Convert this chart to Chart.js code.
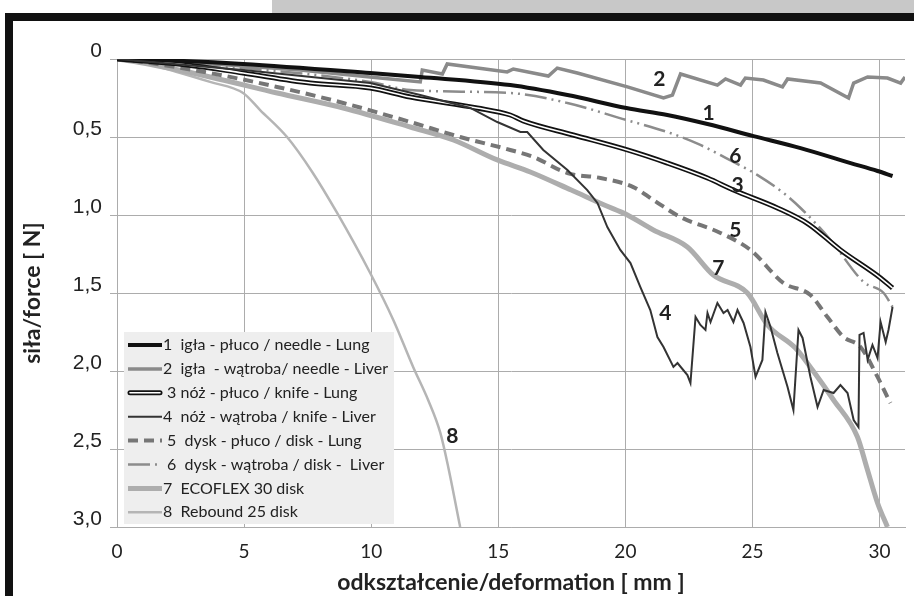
<!DOCTYPE html>
<html>
<head>
<meta charset="utf-8">
<script src="https://cdn.jsdelivr.net/npm/chart.js@4"></script>
<style>
  html, body { margin: 0; padding: 0; background: #fff; }
  canvas { display: block; }
</style>
</head>
<body>
<canvas id="forceChart" width="914" height="596"></canvas>
<script>
// [deformation mm, force N]
const needleLung = [[0,0],[2.5,0.012],[4.96,0.032],[9.96,0.09],[11.93,0.115],[15.47,0.167],[17.72,0.231],[20.04,0.314],[21.65,0.359],[23.23,0.417],[25.04,0.494],[26.89,0.571],[28.86,0.667],[29.92,0.718],[30.51,0.75]];
const needleLiver = [[0,0],[3.27,0.026],[7.2,0.071],[10.35,0.122],[11.93,0.147],[12.01,0.071],[12.8,0.096],[12.99,0.032],[15.35,0.083],[15.59,0.064],[16.97,0.109],[17.32,0.058],[18.11,0.09],[20.08,0.179],[21.5,0.25],[21.85,0.231],[22.17,0.096],[23.62,0.167],[23.94,0.128],[24.53,0.167],[24.72,0.122],[25.43,0.135],[26.18,0.179],[26.38,0.128],[27.68,0.154],[28.78,0.25],[28.98,0.154],[29.53,0.115],[30.31,0.122],[30.83,0.154],[31.0,0.115]];
const knifeLung = [[0,0],[2.76,0.038],[4.96,0.09],[7.6,0.154],[9.96,0.186],[11.54,0.244],[14.17,0.314],[15.47,0.359],[15.98,0.397],[17.95,0.487],[20.08,0.583],[21.65,0.667],[23.23,0.763],[24.25,0.84],[25.98,0.955],[27.2,1.058],[28.46,1.224],[30.04,1.404],[30.51,1.468]];
const knifeLiver = [[0,0],[4.96,0.071],[9.96,0.154],[11.93,0.231],[13.9,0.314],[14.96,0.404],[15.87,0.468],[16.14,0.468],[16.77,0.583],[17.72,0.712],[18.5,0.84],[18.9,0.923],[19.29,1.077],[19.8,1.224],[20.2,1.308],[20.59,1.462],[20.98,1.609],[21.26,1.782],[21.5,1.846],[21.89,1.974],[22.05,1.949],[22.44,2.026],[22.56,2.077],[22.76,1.654],[22.95,1.705],[23.15,1.737],[23.23,1.628],[23.35,1.686],[23.62,1.564],[23.86,1.628],[24.02,1.609],[24.25,1.686],[24.41,1.609],[24.65,1.692],[24.92,1.846],[25.12,2.038],[25.39,1.929],[25.51,1.622],[25.71,1.718],[25.98,1.885],[26.38,2.103],[26.61,2.25],[26.81,1.737],[26.97,1.788],[27.28,2.038],[27.56,2.231],[27.8,2.122],[28.19,2.141],[28.46,2.09],[28.74,2.141],[28.98,2.314],[29.17,2.359],[29.21,1.769],[29.37,1.756],[29.53,1.929],[29.72,1.833],[29.92,1.917],[30.04,1.686],[30.24,1.814],[30.35,1.737],[30.51,1.59]];
const diskLung = [[0,0],[1.02,0.019],[3.66,0.09],[6.3,0.179],[8.9,0.282],[11.54,0.404],[13.5,0.5],[15.47,0.583],[16.38,0.628],[17.72,0.731],[19.02,0.763],[20.31,0.821],[21.1,0.904],[22.17,1.013],[23.74,1.115],[24.92,1.224],[26.22,1.436],[27.28,1.513],[27.95,1.654],[28.58,1.782],[29.25,1.846],[29.92,2.038],[30.31,2.167],[30.43,2.205]];
const diskLiver = [[0,0],[4.96,0.058],[9.96,0.147],[11.54,0.199],[15.47,0.218],[17.72,0.282],[20.04,0.391],[21.65,0.468],[22.95,0.551],[24.25,0.66],[25.2,0.744],[26.22,0.859],[26.89,0.955],[28.07,1.16],[29.37,1.429],[30.16,1.5],[30.51,1.59]];
const ecoflex = [[0,0],[1.02,0.026],[3.66,0.115],[6.3,0.218],[8.9,0.314],[11.54,0.436],[13.23,0.519],[14.96,0.647],[16.26,0.724],[17.87,0.84],[19.17,0.936],[20.08,1.0],[21.1,1.096],[22.44,1.205],[23.46,1.385],[24.8,1.5],[25.59,1.705],[26.69,1.853],[27.36,1.994],[28.19,2.186],[29.13,2.423],[29.49,2.615],[29.92,2.846],[30.31,3.0]];
const rebound = [[0,0],[1.02,0.026],[2.36,0.083],[3.66,0.147],[4.96,0.218],[5.63,0.327],[6.69,0.5],[7.68,0.724],[8.66,0.987],[9.96,1.372],[10.87,1.673],[11.65,1.974],[12.24,2.186],[12.72,2.397],[13.03,2.615],[13.5,3.0]];

const legendLabels = [
  '1  igła - płuco / needle - Lung',
  '2  igła  - wątroba/ needle - Liver',
  ' 3 nóż - płuco / knife - Lung',
  '4  nóż - wątroba / knife - Liver',
  ' 5  dysk - płuco / disk - Lung',
  ' 6  dysk - wątroba / disk -  Liver',
  '7  ECOFLEX 30 disk',
  '8  Rebound 25 disk'
];

// curve numbers placed next to the lines
const curveTags = ['1', '2', '3', '4', '5', '6', '7', '8'];
const curveTagX = [23.27, 21.34, 24.41, 21.57, 24.33, 24.33, 23.66, 13.19];
const curveTagY = [0.35, 0.128, 0.808, 1.628, 1.096, 0.622, 1.34, 2.417];

const xTicks = [0, 5, 10, 15, 20, 25, 30];
const yTicks = [0, 0.5, 1.0, 1.5, 2.0, 2.5, 3.0];

const pts = arr => arr.map(p => ({x: p[0], y: p[1]}));

const datasets = [
  {label: legendLabels[0], data: pts(needleLung), borderColor: '#111', borderWidth: 4, order: 2},
  {label: legendLabels[1], data: pts(needleLiver), borderColor: '#8a8a8a', borderWidth: 3.5, order: 6},
  {label: legendLabels[2], data: pts(knifeLung), borderColor: '#111', borderWidth: 5, order: 4, double: true},
  {label: '', data: pts(knifeLung), borderColor: '#fff', borderWidth: 1.6, order: 3, skipLegend: true},
  {label: legendLabels[3], data: pts(knifeLiver), borderColor: '#333', borderWidth: 2, order: 1, tension: 0},
  {label: legendLabels[4], data: pts(diskLung), borderColor: '#767676', borderWidth: 4, borderDash: [10, 6], order: 5},
  {label: legendLabels[5], data: pts(diskLiver), borderColor: '#8c8c8c', borderWidth: 2.5, borderDash: [22, 5, 2, 5, 2, 5], order: 5},
  {label: legendLabels[6], data: pts(ecoflex), borderColor: '#adadad', borderWidth: 5, order: 7},
  {label: legendLabels[7], data: pts(rebound), borderColor: '#b5b5b5', borderWidth: 2.5, order: 8}
];
datasets.forEach(d => {
  d.pointRadius = 0;
  d.fill = false;
  if (d.tension === undefined) d.cubicInterpolationMode = 'monotone';
});
datasets[1].cubicInterpolationMode = 'default';
datasets[1].tension = 0;

// white page, grey strip and black frame around the figure
const framePlugin = {
  id: 'frame',
  beforeDraw(chart) {
    const ctx = chart.ctx;
    ctx.save();
    ctx.fillStyle = '#fff';
    ctx.fillRect(0, 0, chart.width, chart.height);
    ctx.fillStyle = '#c8c8c8';
    ctx.fillRect(272, 0, chart.width - 272, 13);
    ctx.fillStyle = '#111';
    ctx.fillRect(5, 13, chart.width - 5, 8);
    ctx.fillRect(5, 13, 8, chart.height - 13);
    ctx.restore();
  }
};

// legend box inside the plot + numbers on the curves
const legendPlugin = {
  id: 'boxLegend',
  afterDraw(chart) {
    const ctx = chart.ctx;
    ctx.save();
    ctx.fillStyle = '#eeeeee';
    ctx.fillRect(124, 332, 270, 192);
    const items = chart.data.datasets.filter(d => !d.skipLegend);
    items.forEach((d, i) => {
      const y = 345 + i * 23.9;
      ctx.beginPath();
      ctx.setLineDash(d.borderDash || []);
      ctx.lineCap = d.double ? 'round' : 'butt';
      ctx.strokeStyle = d.borderColor;
      ctx.lineWidth = d.borderWidth;
      ctx.moveTo(d.double ? 130 : 128, y);
      ctx.lineTo(d.double ? 160 : 162, y);
      ctx.stroke();
      if (d.double) {
        ctx.strokeStyle = '#fff';
        ctx.lineWidth = 1.6;
        ctx.stroke();
      }
      ctx.setLineDash([]);
      ctx.fillStyle = '#222';
      ctx.font = '16px Lato';
      ctx.textBaseline = 'middle';
      ctx.textAlign = 'left';
      ctx.fillText(d.label, 163, y);
    });
    const xs = chart.scales.x, ys = chart.scales.y;
    ctx.font = 'bold 21px Lato';
    ctx.textAlign = 'center';
    ctx.fillStyle = '#222';
    curveTags.forEach((t, i) => {
      ctx.fillText(t, xs.getPixelForValue(curveTagX[i]), ys.getPixelForValue(curveTagY[i]));
    });
    ctx.restore();
  }
};

new Chart(document.getElementById('forceChart'), {
  type: 'line',
  data: {datasets: datasets},
  options: {
    responsive: false,
    animation: false,
    layout: {padding: {left: 0, top: 59, right: 9, bottom: 0}},
    plugins: {legend: {display: false}, tooltip: {enabled: false}},
    scales: {
      x: {
        type: 'linear',
        min: 0,
        max: 31,
        afterFit: s => { s.height = 69; },
        afterBuildTicks: s => { s.ticks = xTicks.map(v => ({value: v})); },
        grid: {color: '#acacac', lineWidth: 1, drawTicks: false},
        border: {color: '#acacac'},
        ticks: {
          padding: 13,
          color: '#222',
          font: {family: 'Lato', size: 19},
          maxRotation: 0
        },
        title: {
          display: true,
          text: 'odkształcenie/deformation [ mm ]',
          color: '#222',
          font: {family: 'Lato', size: 23, weight: 'bold'},
          padding: {top: 0, bottom: 0}
        }
      },
      y: {
        type: 'linear',
        reverse: true,
        min: 0,
        max: 3,
        afterFit: s => { s.width = 117; },
        afterBuildTicks: s => { s.ticks = yTicks.map(v => ({value: v})); },
        grid: {color: '#acacac', lineWidth: 1, drawTicks: true, tickLength: 7},
        border: {color: '#acacac'},
        ticks: {
          padding: 8,
          labelOffset: -8,
          color: '#222',
          font: {family: '"Liberation Sans"', size: 21},
          callback: v => v === 0 ? '0' : v.toFixed(1).replace('.', ',')
        },
        title: {
          display: true,
          text: 'siła/force [ N]',
          color: '#222',
          font: {family: 'Lato', size: 23, weight: 'bold'},
          padding: {top: 19, bottom: 0}
        }
      }
    }
  },
  plugins: [framePlugin, legendPlugin]
});
</script>
</body>
</html>
